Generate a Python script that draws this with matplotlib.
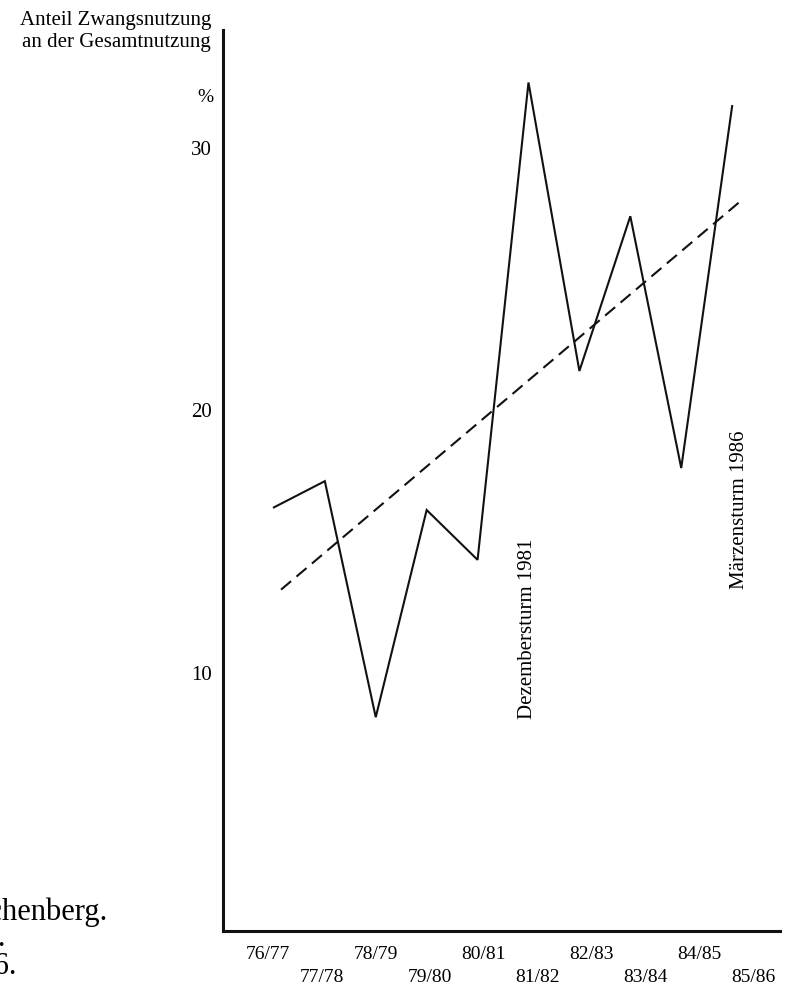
import matplotlib
matplotlib.use("Agg")
from matplotlib import pyplot as plt
import numpy as np

# Forstwirtschaftsjahre
jahre = ["76/77", "77/78", "78/79", "79/80", "80/81",
         "81/82", "82/83", "83/84", "84/85", "85/86"]
# Anteil Zwangsnutzung an der Gesamtnutzung in %
anteil = [16.3, 17.3, 8.3, 16.2, 14.3, 32.5, 21.5, 27.4, 17.8, 31.6]
y_ticks = [10, 20, 30]

plt.rcParams['font.family'] = ['Liberation Serif', 'DejaVu Serif']

fig = plt.figure(figsize=(7.85, 9.88), dpi=100)
ax = fig.add_axes([223 / 785, 57 / 988, 557 / 785, 901 / 988])

x = np.arange(len(jahre))
ax.plot(x, anteil, color='#111111', lw=1.5, solid_joinstyle='miter')

# linearer Trend
m, b = np.polyfit(x, anteil, 1)
xt = np.array([0.14, 9.14])
ax.plot(xt, m * xt + b, color='#111111', lw=1.5, linestyle=(0, (6.3, 3.4)))

ax.set_xlim(-1.0, 9.94)
ax.set_ylim(0.15, 34.5)

for side in ['top', 'right']:
    ax.spines[side].set_visible(False)
for side in ['left', 'bottom']:
    ax.spines[side].set_linewidth(2.2)
    ax.spines[side].set_color('#111111')

ax.set_yticks(y_ticks)
ax.set_yticklabels([str(v) for v in y_ticks], fontsize=15)
ax.tick_params(axis='y', length=0, pad=8)

# Beschriftung etwas breiter gestaffelt als die Datenpunkte
ax.set_xticks(-0.12 + x * 1.059)
ax.set_xticklabels(jahre, fontsize=14)
ax.tick_params(axis='x', length=0)
for i, tick in enumerate(ax.xaxis.get_major_ticks()):
    tick.set_pad(11 if i % 2 == 0 else 27)

fig.text(211 / 785, 1 - 21 / 988, "Anteil Zwangsnutzung", ha='right',
         va='center', fontsize=15)
fig.text(211 / 785, 1 - 43 / 988, "an der Gesamtnutzung", ha='right',
         va='center', fontsize=15)
fig.text(214 / 785, 1 - 98 / 988, "%", ha='right', va='center', fontsize=14)

fig.text(528 / 785, 1 - 629 / 988, "Dezembersturm 1981", fontsize=15,
         rotation=90, ha='center', va='center')
fig.text(739 / 785, 1 - 510 / 988, "Märzensturm 1986", fontsize=15,
         rotation=90, ha='center', va='center')

# abgeschnittene Bildlegende links unten (im Original auch angeschnitten)
fig.text(107 / 785, 1 - 912 / 988, "Eschenberg.", ha='right', va='center',
         fontsize=22)
fig.text(6 / 785, 1 - 938 / 988, "Winterthur.", ha='right', va='center',
         fontsize=22)
fig.text(17 / 785, 1 - 966 / 988, "1986.", ha='right', va='center',
         fontsize=22)

fig.savefig('out.png', dpi=100)
